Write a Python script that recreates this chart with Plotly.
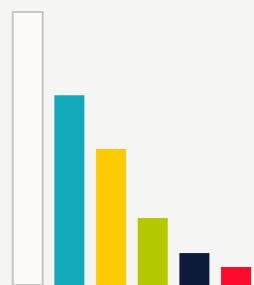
import plotly.graph_objects as go

categories = ["A", "B", "C", "D", "E", "F"]
values = [100, 69.5, 49.8, 24.5, 11.7, 6.6]
colors = ["#fcfbfa", "#12a9bb", "#fdcb00", "#b3c801", "#0d1b3b", "#fe0a2d"]
line_colors = ["#c6c6c6", "#12a9bb", "#fdcb00", "#b3c801", "#0d1b3b", "#fe0a2d"]
line_widths = [2, 0, 0, 0, 0, 0]

fig = go.Figure(
    go.Bar(
        x=categories,
        y=values,
        marker=dict(color=colors, line=dict(color=line_colors, width=line_widths)),
        hoverinfo="skip",
    )
)

fig.update_layout(
    width=254,
    height=285,
    margin=dict(l=0, r=0, t=0, b=0),
    paper_bgcolor="#f5f5f4",
    plot_bgcolor="#f5f5f4",
    bargap=0.28,
    showlegend=False,
    xaxis=dict(visible=False, range=[-0.665, 5.431]),
    yaxis=dict(visible=False, range=[0, 104.4]),
)

fig.write_html(
    "out.html",
    config={"displayModeBar": False},
    post_script="document.body.style.margin='0';document.body.style.overflow='hidden';",
)
